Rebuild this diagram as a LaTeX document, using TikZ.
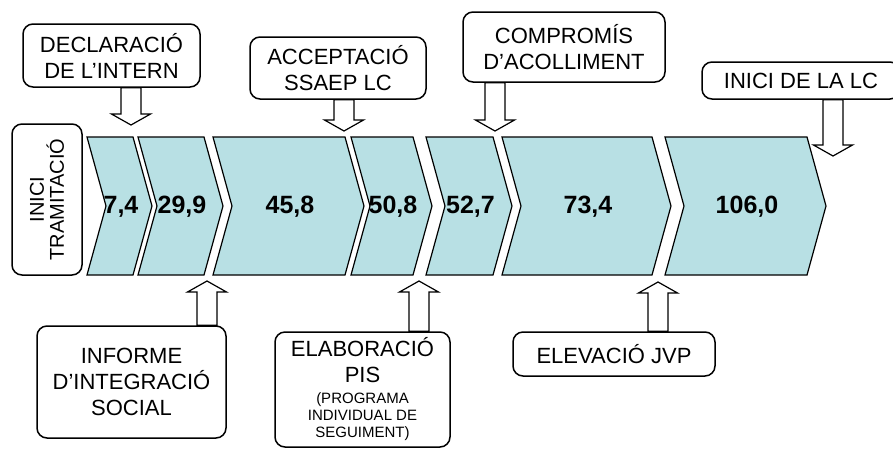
\documentclass[tikz,border=0pt]{standalone}
\usepackage{fontspec}
\setmainfont{Liberation Sans}
\usetikzlibrary{calc}

\definecolor{stagefill}{HTML}{B8E0E4}

\newcommand{\pistxt}[1]{{\fontsize{15}{17}\selectfont #1}}
% block arrow from a box (#1) to a tip coordinate (#2)
\newcommand{\blockarr}[2]{%
  \draw[barrow] let \p1=(#2), \p2=(#2|-#1), \p3=($(\p1)!11pt!(\p2)$) in
    (\x1-10pt,\y2) -- (\x1-10pt,\y3) -- (\x1-19.5pt,\y3) -- (\p1)
    -- (\x1+19.5pt,\y3) -- (\x1+10pt,\y3) -- (\x1+10pt,\y2) -- cycle;}

\begin{document}
\begin{tikzpicture}[
  x=1pt, y=1pt,
  box/.style = {rectangle, draw, fill=white, line width=1.5pt, rounded corners=10pt,
                align=center, inner sep=2pt, font=\fontsize{22}{26}\selectfont},
  stage/.style = {draw, line width=1.2pt, fill=stagefill, line join=miter},
  num/.style = {font=\fontsize{25}{30}\selectfont\bfseries},
  barrow/.style = {draw, line width=1.2pt, fill=white, line join=miter}
]
  \useasboundingbox (0,0) rectangle (893,-448);

  % Stages
  \foreach \xl/\xr/\val [count=\i] in {87/133/{7,4}, 138/204/{29,9}, 213/345/{45,8},
      351/413/{50,8}, 426/493/{52,7}, 502/652/{73,4}, 665/807/{106,0}} {
    \draw[stage] (\xl,-137) -- (\xr,-137) -- (\xr+19,-206) -- (\xr,-275) -- (\xl,-275)
      -- (\xl+19,-206) -- cycle;
    \node[num] (c\i) at ({(\xl+\xr)/2+11},-207) {\val};
  }

  % Start
  \node[box, rotate=90, minimum width=151pt, minimum height=70pt,
        font=\fontsize{20}{20}\selectfont] (start) at (47,-199.5) {INICI\\TRAMITACIÓ};

  % Upper milestones
  \node[box, minimum width=177pt, minimum height=63pt] (decl) at (111.5,-55.5)
    {DECLARACIÓ\\DE L’INTERN};
  \node[box, minimum width=176pt, minimum height=62pt] (accep) at (338,-68)
    {ACCEPTACIÓ\\SSAEP LC};
  \node[box, minimum width=202pt, minimum height=70pt] (comp) at (564,-47)
    {COMPROMÍS\\D’ACOLLIMENT};
  \node[box, minimum width=198pt, minimum height=37pt] (inilc) at (801,-80.5)
    {INICI DE LA LC};

  % Lower milestones
  \node[box, minimum width=189pt, minimum height=112pt] (inform) at (131.5,-382)
    {INFORME\\D’INTEGRACIÓ\\SOCIAL};
  \node[box, minimum width=175pt, minimum height=115pt] (pis) at (362.5,-389.5)
    {ELABORACIÓ\\PIS\\[-5pt]\pistxt{(PROGRAMA}\\[-9pt]\pistxt{INDIVIDUAL DE}\\[-9pt]\pistxt{SEGUIMENT)}};
  \node[box, minimum width=202pt, minimum height=44pt] (jvp) at (614,-354)
    {ELEVACIÓ JVP};

  % Arrow tips
  \coordinate (tdecl) at (131,-125);
  \coordinate (taccep) at (344,-131);
  \coordinate (tcomp) at (495,-131);
  \coordinate (tinilc) at (833,-156);
  \coordinate (tinform) at (207,-281);
  \coordinate (tpis) at (419,-281);
  \coordinate (tjvp) at (658,-282);

  \blockarr{decl.south}{tdecl}
  \blockarr{accep.south}{taccep}
  \blockarr{comp.south}{tcomp}
  \blockarr{inilc.south}{tinilc}
  \blockarr{inform.north}{tinform}
  \blockarr{pis.north}{tpis}
  \blockarr{jvp.north}{tjvp}

\end{tikzpicture}
\end{document}
